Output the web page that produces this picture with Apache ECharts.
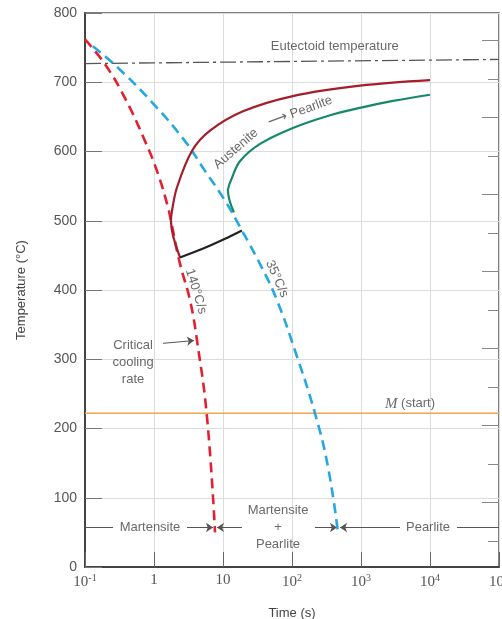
<!DOCTYPE html>
<html>
<head>
<meta charset="utf-8">
<script src="https://cdn.jsdelivr.net/npm/echarts@6/dist/echarts.min.js"></script>
<style>
  html, body { margin: 0; padding: 0; background: #fff; }
  #chart { width: 502px; height: 619px; }
</style>
</head>
<body>
<div id="chart"></div>
<script>
// cooling curve 140 C/s (critical cooling rate)
var criticalTime = [0.1, 0.195, 0.38, 0.741, 1.14, 1.6, 1.76, 2.38, 3.33, 4.2, 5.87, 7.66];
var criticalTemp = [762, 726, 677, 615, 568, 519, 500, 438, 385, 327, 216, 50];
// cooling curve 35 C/s
var slowTime = [0.13, 0.3, 0.936, 2.81, 5.48, 10.7, 18.8, 36.7, 60.7, 110, 215, 333, 464];
var slowTemp = [752, 721, 671, 615, 572, 529, 486, 432, 385, 313, 222, 144, 50];
// pearlite start (red) and finish (green)
var startTime = [2.38, 1.76, 1.82, 2.15, 3.56, 6.48, 19.5, 103, 968, 10000];
var startTemp = [447, 500, 514, 548, 601, 630, 658, 680, 695, 703];
var finishTime = [14.4, 11.8, 13.5, 17.6, 34.4, 103, 321, 968, 2910, 10000];
var finishTemp = [512, 543, 562, 586, 611, 634, 651, 663, 673, 682];
// black boundary line
var stopTime = [2.38, 5.48, 10.7, 18.8];
var stopTemp = [447, 461, 474, 486];
// horizontal references
var eutectoidTime = [0.1, 100000];
var eutectoidTemp = [727, 733];
var mStartTemp = 222;
// temperature ticks
var celsiusTicks = [0, 100, 200, 300, 400, 500, 600, 700, 800];
var fahrenheitMajor = [200, 400, 600, 800, 1000, 1200, 1400];
var fahrenheitMinor = [100, 300, 500, 700, 900, 1100, 1300];
var timeTickLabels = {0.1: '-1', 100: '2', 1000: '3', 10000: '4', 100000: '5'};
// bottom annotation arrows [fromTime, toTime, arrowAtEnd]
var annoTemp = 57;
var annoSegments = [
  [0.1, 0.255, false],
  [3.01, 7.16, true],
  [18.8, 8.18, true],
  [215, 449, true],
  [3673, 497, true],
  [24600, 100000, false]
];
// text notes [time, temp, text, rotation]
var notes = [
  [417, 752, 'Eutectoid temperature', 0],
  [15.4, 604, 'Austenite', 41],
  [131, 658, '{a|\u27f6} Pearlite', 20],
  [4.06, 398, '140\u00b0C/s', -73],
  [60.7, 416, '35\u00b0C/s', -66],
  [0.875, 57, 'Martensite', 0],
  [62.7, 57, 'Martensite\n+\nPearlite', 0],
  [9360, 57, 'Pearlite', 0],
  [0.497, 295, 'Critical\ncooling\nrate', 0]
];
var criticalArrow = [[1.35, 323], [3.8, 327]];
var mStartLabel = [5130, 236];

function pairs(xs, ys) {
  return xs.map(function (x, i) { return [x, ys[i]]; });
}

var chart = echarts.init(document.getElementById('chart'));
var textColor = '#444';
var sans = '"Liberation Sans", Arial, sans-serif';

var arrowData = annoSegments.map(function (s) {
  return {
    coords: [[s[0], annoTemp], [s[1], annoTemp]],
    symbol: ['none', s[2] ? 'arrow' : 'none']
  };
});
arrowData.push({coords: criticalArrow, symbol: ['none', 'arrow']});

var noteData = notes.map(function (n) {
  return {
    value: [n[0], n[1]],
    name: n[2],
    label: {rotate: n[3]}
  };
});
noteData.push({
  value: mStartLabel,
  name: '{m|M} (start)',
  label: {rotate: 0}
});

var option = {
  animation: false,
  backgroundColor: '#fff',
  grid: {
    left: 85, right: 3, top: 13, bottom: 52,
    outerBoundsMode: 'none',
    containLabel: false,
    show: true, borderColor: '#555', borderWidth: 1.5
  },
  xAxis: {
    type: 'log',
    logBase: 10,
    min: 0.1,
    max: 100000,
    splitNumber: 6,
    name: 'Time (s)',
    nameLocation: 'middle',
    nameGap: 40,
    nameTextStyle: {fontFamily: sans, fontSize: 13, color: textColor},
    axisLine: {lineStyle: {color: '#444', width: 2}},
    axisTick: {inside: true, length: 15, lineStyle: {color: '#666'}},
    splitLine: {show: true, lineStyle: {color: '#dcdcdc', width: 1}},
    axisLabel: {
      margin: 6,
      color: '#555',
      hideOverlap: false,
      formatter: function (v) {
        var key = Math.round(v * 10) / 10;
        if (key === 1) return '{b|1}';
        if (key === 10) return '{b|10}';
        return '{b|10}{s|' + timeTickLabels[key] + '}';
      },
      rich: {
        b: {fontFamily: '"Liberation Serif", serif', fontSize: 15, color: '#555'},
        s: {fontFamily: '"Liberation Serif", serif', fontSize: 10, color: '#555', padding: [0, 0, 9, 0]}
      }
    }
  },
  yAxis: [
    {
      type: 'value',
      min: 0,
      max: 800,
      interval: 100,
      name: 'Temperature (\u00b0C)',
      nameLocation: 'middle',
      nameGap: 57,
      nameTextStyle: {fontFamily: sans, fontSize: 13, color: textColor},
      axisLine: {show: true, lineStyle: {color: '#444', width: 2}},
      axisTick: {show: true, inside: true, length: 17, customValues: celsiusTicks, lineStyle: {color: '#777'}},
      splitLine: {show: true, lineStyle: {color: '#dcdcdc', width: 1}},
      axisLabel: {fontFamily: sans, fontSize: 14, color: '#555', margin: 8}
    },
    {
      type: 'value',
      position: 'right',
      min: 32,
      max: 1472,
      axisLine: {show: false},
      axisLabel: {show: false},
      splitLine: {show: false},
      axisTick: {show: true, inside: true, length: 17, customValues: fahrenheitMajor, lineStyle: {color: '#888'}}
    },
    {
      type: 'value',
      position: 'right',
      min: 32,
      max: 1472,
      axisLine: {show: false},
      axisLabel: {show: false},
      splitLine: {show: false},
      axisTick: {show: true, inside: true, length: 11, customValues: fahrenheitMinor, lineStyle: {color: '#888'}}
    }
  ],
  series: [
    {
      type: 'line', name: 'eutectoid', data: pairs(eutectoidTime, eutectoidTemp),
      symbol: 'none', lineStyle: {color: '#555', width: 1.3, type: [16, 4, 3, 4]}
    },
    {
      type: 'line', name: 'mstart', data: [[0.1, mStartTemp], [100000, mStartTemp]],
      symbol: 'none', lineStyle: {color: '#f3a553', width: 1.6}
    },
    {
      type: 'line', name: '140', data: pairs(criticalTime, criticalTemp),
      symbol: 'none', smooth: 0.45, lineStyle: {color: '#e3202f', width: 2.6, type: [10, 6]}
    },
    {
      type: 'line', name: '35', data: pairs(slowTime, slowTemp),
      symbol: 'none', smooth: 0.45, lineStyle: {color: '#27a7df', width: 2.6, type: [10, 6]}
    },
    {
      type: 'line', name: 'start', data: pairs(startTime, startTemp),
      symbol: 'none', smooth: 0.35, lineStyle: {color: '#a51c2b', width: 2.2}
    },
    {
      type: 'line', name: 'finish', data: pairs(finishTime, finishTemp),
      symbol: 'none', smooth: 0.35, lineStyle: {color: '#14896a', width: 2.2}
    },
    {
      type: 'line', name: 'stop', data: pairs(stopTime, stopTemp),
      symbol: 'none', smooth: 0.3, lineStyle: {color: '#222', width: 2.2}
    },
    {
      type: 'lines', coordinateSystem: 'cartesian2d',
      symbolSize: 7,
      lineStyle: {color: '#555', width: 1, opacity: 1},
      data: arrowData
    },
    {
      type: 'scatter', symbolSize: 0, data: noteData,
      label: {
        show: true, position: 'inside',
        formatter: '{b}',
        fontFamily: sans, fontSize: 13, color: textColor, lineHeight: 17,
        align: 'center', verticalAlign: 'middle',
        rich: {
          m: {fontFamily: '"Liberation Serif", serif', fontStyle: 'italic', fontSize: 15, color: textColor},
          a: {fontFamily: '"DejaVu Sans", sans-serif', fontSize: 14, color: textColor}
        }
      }
    }
  ]
};
chart.setOption(option);
</script>
</body>
</html>
